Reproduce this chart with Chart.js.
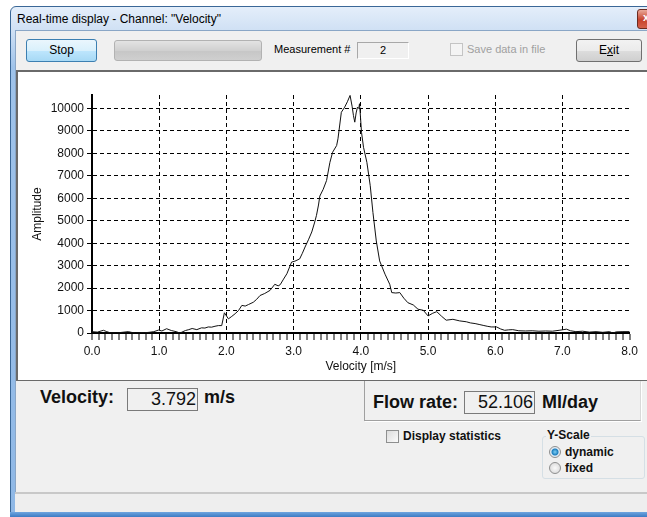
<!DOCTYPE html>
<html>
<head>
<meta charset="utf-8">
<script src="https://cdn.jsdelivr.net/npm/chart.js@4/dist/chart.umd.min.js"></script>
<style>
  body { margin: 0; width: 647px; height: 517px; overflow: hidden; background: #fff;
         font-family: "Liberation Sans", Arial, sans-serif; position: relative; }
  .abs { position: absolute; }
  .win { left: 10px; top: 6px; width: 660px; height: 511px; box-sizing: border-box;
         border: 1px solid #3a6797; border-radius: 6px 6px 0 0;
         background: linear-gradient(#e4eefa 0px, #cfe0f4 24px, #9fc3ea 60px, #8fb8e6 100%); }
  .title { left: 17px; top: 12px; font-size: 12px; color: #000; white-space: nowrap; }
  .close { left: 637px; top: 9px; width: 42px; height: 18px; border: 1px solid #6b2a1f;
           border-radius: 3px; background: linear-gradient(#e9a99a, #c7422b 55%, #d5604a); }
  .close span { position: absolute; left: 5px; top: 1px; color: #fff; font-size: 11px; font-weight: bold; }
  .client { left: 15px; top: 30px; width: 640px; height: 482px; background: #f0f0f0;
            border-top: 1px solid #8aa6c6; border-left: 1px solid #8aa6c6; box-sizing: border-box; }
  .btn { height: 23px; box-sizing: border-box; border-radius: 3px; font-size: 12px;
         text-align: center; line-height: 21px; color: #000; }
  .stop { left: 26px; top: 39px; width: 71px; border: 1px solid #3c7fb1;
          background: linear-gradient(#eaf6fd 0%, #d9f0fc 50%, #bee6fd 51%, #a7d9f5 100%); }
  .exit { left: 576px; top: 39px; width: 66px; border: 1px solid #707070;
          background: linear-gradient(#f2f2f2 0%, #ebebeb 50%, #dddddd 51%, #cfcfcf 100%); }
  .prog { left: 114px; top: 40px; width: 148px; height: 21px; box-sizing: border-box;
          border: 1px solid #b2b2b2; border-radius: 3px;
          background: linear-gradient(#e3e3e3, #d0d0d0 50%, #c6c6c6 51%, #cfcfcf); }
  .lbl11 { font-size: 11px; white-space: nowrap; }
  .mbox { left: 357px; top: 42px; width: 52px; height: 17px; box-sizing: border-box;
          border: 1px solid #a8a8a8; border-right-color: #fff; border-bottom-color: #fff;
          font-size: 11px; text-align: center; line-height: 15px; }
  .chk { width: 13px; height: 13px; box-sizing: border-box; border: 1px solid #8e8f8f;
         background: linear-gradient(135deg, #dcdcdc, #fbfbfb); }
  .panel { left: 16px; top: 70px; width: 640px; height: 311px; box-sizing: border-box; background: #fff;
           border-top: 2px solid #6a6a6a; border-left: 2px solid #6a6a6a;
           border-bottom: 1px solid #6a6a6a; }
  .big { font-size: 18px; font-weight: bold; white-space: nowrap; color: #111; }
  .vbox { height: 23px; box-sizing: border-box; border: 1px solid #7a7a7a; background: #f0f0f0;
          font-size: 18px; text-align: right; line-height: 21px; padding-right: 1px; color: #111; }
  .fpanel { left: 364px; top: 381px; width: 277px; height: 40px; box-sizing: border-box;
            border-left: 1px solid #a0a0a0; border-bottom: 1px solid #a0a0a0; border-right: 1px solid #d8d8d8;
            box-shadow: 1px 1px 0 #fff; }
  .b12 { font-size: 12px; font-weight: bold; white-space: nowrap; color: #111; }
  .group { left: 542px; top: 436px; width: 103px; height: 43px; box-sizing: border-box;
           border: 1px solid #d5dfe5; border-radius: 3px; }
  .radio { width: 12px; height: 12px; box-sizing: border-box; border-radius: 50%;
           border: 1px solid #8e8f8f; background: radial-gradient(#fafafa, #d4d4d4); }
  .radio.on { background: radial-gradient(#7fd0f5 0px, #1e7fbf 3px, #dce8f2 4px, #f3f3f3 6px); }
  .status { left: 15px; top: 492px; width: 640px; height: 21px; box-sizing: border-box;
            border-top: 2px solid #c8c8c8; background: #eeeeee; }
  .bottom { left: 10px; top: 512px; width: 660px; height: 5px; background: linear-gradient(#6ea5df, #3c7bc4); }
</style>
</head>
<body>
<div class="abs win"></div>
<div class="abs title">Real-time display - Channel: "Velocity"</div>
<div class="abs close"><span>x</span></div>
<div class="abs client"></div>

<div class="abs btn stop">Stop</div>
<div class="abs prog"></div>
<div class="abs lbl11" style="left:274px; top:43px;">Measurement #</div>
<div class="abs mbox">2</div>
<div class="abs chk" style="left:450px; top:43px; border-color:#c4c4c4; background:#f4f4f4;"></div>
<div class="abs lbl11" style="left:467px; top:43px; color:#a0a0a0;">Save data in file</div>
<div class="abs btn exit">E<u>x</u>it</div>

<div class="abs panel"></div>
<canvas id="chart" class="abs" width="624" height="307" style="left:18px; top:72px;"></canvas>

<div class="abs big" style="left:40px; top:387px;">Velocity:</div>
<div class="abs vbox" style="left:127px; top:388px; width:71px;">3.792</div>
<div class="abs big" style="left:204px; top:387px;">m/s</div>

<div class="abs fpanel"></div>
<div class="abs big" style="left:373px; top:392px;">Flow rate:</div>
<div class="abs vbox" style="left:464px; top:391px; width:71px;">52.106</div>
<div class="abs big" style="left:542px; top:392px;">Ml/day</div>

<div class="abs chk" style="left:386px; top:430px;"></div>
<div class="abs b12" style="left:403px; top:429px;">Display statistics</div>

<div class="abs group"></div>
<div class="abs b12" style="left:546px; top:428px; background:#f0f0f0; padding:0 1px;">Y-Scale</div>
<div class="abs radio on" style="left:549px; top:446px;"></div>
<div class="abs b12" style="left:565px; top:445px;">dynamic</div>
<div class="abs radio" style="left:549px; top:462px;"></div>
<div class="abs b12" style="left:565px; top:461px;">fixed</div>

<div class="abs status"></div>
<div class="abs bottom"></div>

<script>
const velocity = [
  0.00, 0.08, 0.17, 0.22, 0.27, 0.36, 0.45, 0.54, 0.60, 0.65, 0.72, 0.78, 0.85, 0.92, 0.99,
  1.04, 1.11, 1.18, 1.25, 1.31, 1.39, 1.44, 1.49, 1.56, 1.63, 1.68, 1.73, 1.78, 1.83, 1.88, 1.93, 1.97,
  2.03, 2.08, 2.13, 2.18, 2.23, 2.28, 2.33, 2.40, 2.45, 2.50, 2.57, 2.65, 2.72, 2.77, 2.80, 2.85, 2.90, 2.97,
  3.02, 3.09, 3.13, 3.17, 3.22, 3.27, 3.31, 3.34, 3.37, 3.39, 3.44, 3.49, 3.54, 3.58, 3.64, 3.66, 3.71, 3.76,
  3.80, 3.84, 3.87, 3.89, 3.91, 3.93, 3.95, 3.97, 3.98, 3.99,
  4.01, 4.04, 4.09, 4.14, 4.18, 4.23, 4.28, 4.36, 4.43, 4.46, 4.52, 4.58, 4.64, 4.70, 4.78, 4.85, 4.93,
  5.00, 5.07, 5.13, 5.20, 5.27, 5.37, 5.47, 5.57, 5.63, 5.70, 5.76, 5.82, 5.88, 5.94,
  6.02, 6.08, 6.14, 6.20, 6.26, 6.35, 6.45, 6.55, 6.65, 6.75, 6.85, 6.95,
  7.06, 7.12, 7.20, 7.30, 7.40, 7.50, 7.60, 7.70, 7.75, 7.80, 7.90, 8.00
];
const amplitude = [
  60, 40, 120, 60, 10, 0, 30, 60, 20, 0, 20, 10, 30, 60, 130,
  90, 190, 110, 60, 0, 110, 150, 200, 150, 230, 220, 270, 260, 300, 330, 330, 900,
  630, 740, 860, 1000, 1230, 1200, 1270, 1370, 1500, 1670, 1760, 1900, 2170, 2100, 2150, 2400, 2640, 3160,
  3200, 3300, 3550, 3830, 4150, 4500, 4900, 5240, 5700, 6100, 6400, 6790, 7600, 8050, 8350, 8650, 9830, 10060,
  10300, 10580, 10100, 9690, 9390, 9800, 10060, 10000, 10210, 9830,
  8940, 8270, 7600, 6560, 5370, 4100, 3210, 2620, 2170, 1800, 1780, 1800, 1550, 1350, 1250, 1060, 1010,
  760, 880, 950, 750, 570, 610, 540, 500, 450, 420, 380, 340, 300, 270,
  270, 180, 120, 140, 150, 100, 90, 100, 80, 90, 80, 120,
  170, 100, 60, 80, 40, 60, 30, 60, 0, 50, 60, 60
];

const xMin = 0, xMax = 8, xStep = 0.1;
const yMin = 0, yMax = 10600;
const yTickValues = [0, 1000, 2000, 3000, 4000, 5000, 6000, 7000, 8000, 9000, 10000];
const xTitle = 'Velocity [m/s]';
const yTitle = 'Amplitude';

const isWhole = (v) => Math.abs(v - Math.round(v)) < 1e-6;
const font12 = { family: '"Liberation Sans", Arial, sans-serif', size: 12 };

new Chart(document.getElementById('chart'), {
  type: 'line',
  data: {
    datasets: [{
      data: velocity.map((v, i) => ({ x: v, y: amplitude[i] })),
      borderColor: '#111',
      borderWidth: 1,
      pointRadius: 0,
      tension: 0,
      fill: false
    }]
  },
  options: {
    responsive: false,
    animation: false,
    layout: { padding: { top: 23, right: 12, left: 0, bottom: 0 } },
    plugins: { legend: { display: false }, tooltip: { enabled: false } },
    scales: {
      x: {
        type: 'linear',
        min: xMin, max: xMax,
        afterFit: (s) => { s.height = 46; },
        border: { display: true, color: '#000', width: 2, dash: [4, 3] },
        grid: {
          color: '#000',
          lineWidth: (c) => (c.tick && isWhole(c.tick.value) && c.tick.value > xMin && c.tick.value < xMax) ? 1 : 0,
          tickWidth: 1,
          tickColor: '#000',
          tickLength: 7
        },
        ticks: {
          stepSize: xStep,
          autoSkip: false,
          maxRotation: 0,
          padding: 4,
          color: '#111',
          font: font12,
          callback: (v) => isWhole(v) ? Number(v).toFixed(1) : ''
        },
        title: { display: true, text: xTitle, color: '#111', font: font12, padding: { top: 0, bottom: 5 } }
      },
      y: {
        min: yMin, max: yMax,
        afterFit: (s) => { s.width = 74; },
        afterBuildTicks: (s) => { s.ticks = yTickValues.map((v) => ({ value: v })); },
        border: { display: true, color: '#000', width: 2, dash: [4, 3] },
        grid: { color: '#000', lineWidth: 1, tickColor: '#000', tickWidth: 1, tickLength: 5 },
        ticks: {
          autoSkip: false,
          padding: 3,
          color: '#111',
          font: font12,
          callback: (v) => String(v)
        },
        title: { display: true, text: yTitle, color: '#111', font: font12, padding: { top: 12, bottom: 0 } }
      }
    }
  }
});
</script>
</body>
</html>
